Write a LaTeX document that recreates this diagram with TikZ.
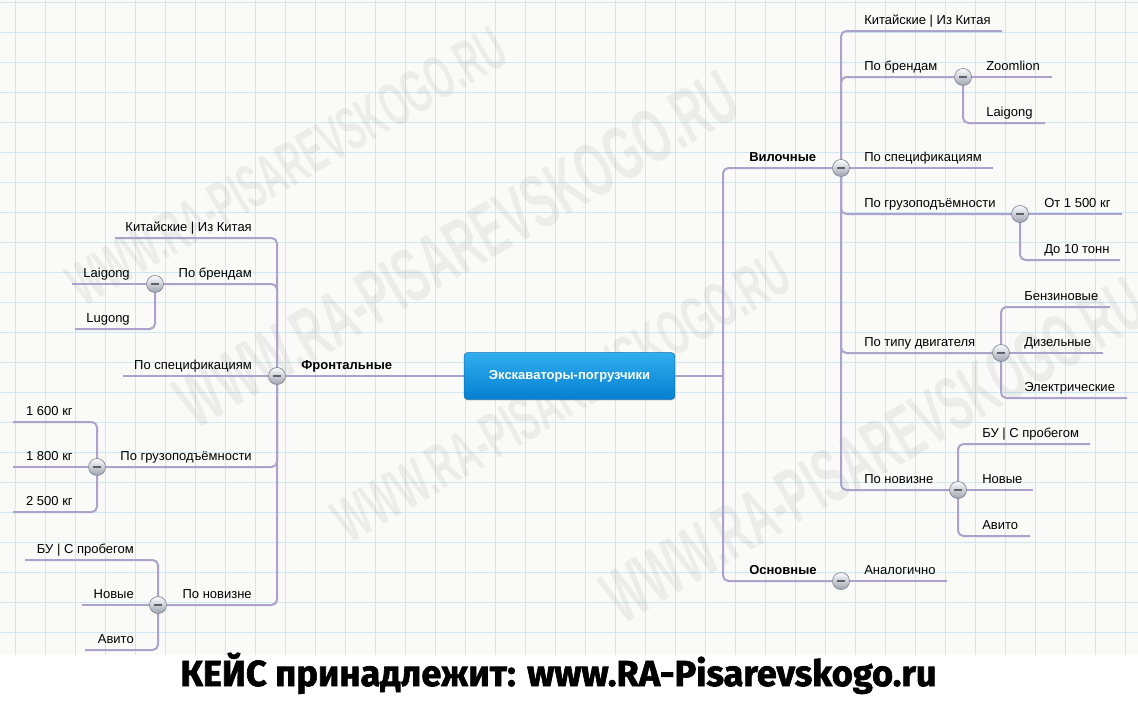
\documentclass[tikz,border=0pt]{standalone}
\usepackage{fontspec}
\usepackage{graphicx}
\setmainfont{Liberation Sans}
\newfontfamily\bannerfont[BoldFeatures={FakeBold=1.8}]{Fira Sans}
\usetikzlibrary{shadows}

\definecolor{paper}{RGB}{250,250,249}
\definecolor{paperblue}{RGB}{206,231,243}
\definecolor{branchline}{RGB}{172,162,204}
\definecolor{topblue}{RGB}{48,174,238}
\definecolor{botblue}{RGB}{6,128,208}
\definecolor{knobtop}{RGB}{252,252,253}
\definecolor{knobbot}{RGB}{158,163,176}
\definecolor{knobedge}{RGB}{128,133,146}
\definecolor{knobdash}{RGB}{95,98,108}
\newcommand{\knobbar}{\textcolor{knobdash}{\rule[-0.6pt]{5.5pt}{1.2pt}}}

\pgfdeclarelayer{paperlayer}
\pgfdeclarelayer{links}
\pgfsetlayers{paperlayer,links,main}

\begin{document}
\begin{tikzpicture}[x=0.75pt, y=-0.75pt,
  every node/.style={font=\fontsize{9.75}{11}\selectfont},
  link/.style={draw=branchline, line width=1.5pt, rounded corners=4pt},
  knob/.style={circle, draw=knobedge, line width=0.5pt, top color=knobtop, bottom color=knobbot, minimum size=12.75pt, inner sep=0pt},
  labr/.style={anchor=base west, inner sep=0pt},
  labl/.style={anchor=base east, inner sep=0pt},
  labb/.style={anchor=base west, inner sep=0pt, font=\bfseries\fontsize{9.75}{11}\selectfont},
  hub/.style={rounded corners=2.5pt, draw=botblue!85!black, line width=0.4pt, top color=topblue, bottom color=botblue, minimum width=158pt, minimum height=35pt, text=white, font=\bfseries\fontsize{9.75}{11}\selectfont, drop shadow={opacity=0.25, shadow xshift=0pt, shadow yshift=-1pt}},
  gridline/.style={draw=paperblue, line width=0.5pt},
  wmark/.style={text=black, text opacity=0.055, rotate=30, inner sep=0pt, font=\bfseries}]
\useasboundingbox (0, 0) rectangle (1138, 714);

\begin{pgfonlayer}{paperlayer}
\fill[paper] (0, 0) rectangle (1138, 655);
\fill[white] (0, 655) rectangle (1138, 714);
\foreach \gx in {15,45,...,1125} \draw[gridline] (\gx, 0) -- (\gx, 655);
\foreach \gy in {2,32,...,632} \draw[gridline] (0, \gy) -- (1138, \gy);
\node[wmark] (wm1) at (287, 166) {\resizebox{370pt}{32pt}{WWW.RA-PISAREVSKOGO.RU}};
\node[wmark] (wm2) at (457, 249) {\resizebox{475pt}{40pt}{WWW.RA-PISAREVSKOGO.RU}};
\node[wmark] (wm3) at (562, 397) {\resizebox{386pt}{33pt}{WWW.RA-PISAREVSKOGO.RU}};
\node[wmark] (wm4) at (874, 450) {\resizebox{458pt}{40pt}{WWW.RA-PISAREVSKOGO.RU}};
\end{pgfonlayer}

% center
\node[hub] (main) at (569.5, 376) {Экскаваторы-погрузчики};
\coordinate (tr) at (723, 376);

% left: frontal
\node[knob] (fr) at (277, 376) {\knobbar};
\node[labb] (frl) at (301, 369) {Фронтальные};
\coordinate (fk-e) at (115, 238);
\node[labl] (fk) at (252, 231) {Китайские | Из Китая};
\node[knob] (fb) at (155, 284) {\knobbar};
\node[labl] (fbl) at (252, 277) {По брендам};
\coordinate (fb1-e) at (72, 284);
\node[labl] (fb1) at (130, 277) {Laigong};
\coordinate (fb2-e) at (75, 329);
\node[labl] (fb2) at (130, 322) {Lugong};
\coordinate (fs-e) at (123, 376);
\node[labl] (fs) at (252, 369) {По спецификациям};
\node[knob] (fg) at (97, 467) {\knobbar};
\node[labl] (fgl) at (252, 460) {По грузоподъёмности};
\coordinate (fg1-e) at (13, 422);
\node[labl] (fg1) at (73, 415) {1 600 кг};
\coordinate (fg2-e) at (13, 467);
\node[labl] (fg2) at (73, 460) {1 800 кг};
\coordinate (fg3-e) at (13, 512);
\node[labl] (fg3) at (73, 505) {2 500 кг};
\node[knob] (fn) at (158, 605) {\knobbar};
\node[labl] (fnl) at (252, 598) {По новизне};
\coordinate (fn1-e) at (25, 560);
\node[labl] (fn1) at (134, 553) {БУ | С пробегом};
\coordinate (fn2-e) at (82, 605);
\node[labl] (fn2) at (134, 598) {Новые};
\coordinate (fn3-e) at (85, 650);
\node[labl] (fn3) at (134, 643) {Авито};

% right: forklift
\node[knob] (vil) at (841, 168) {\knobbar};
\node[labb] (vill) at (749, 161) {Вилочные};
\coordinate (vk-e) at (1002, 31);
\node[labr] (vk) at (864, 24) {Китайские | Из Китая};
\node[knob] (vb) at (963, 77) {\knobbar};
\node[labr] (vbl) at (864, 70) {По брендам};
\coordinate (vb1-e) at (1052, 77);
\node[labr] (vb1) at (986, 70) {Zoomlion};
\coordinate (vb2-e) at (1045, 123);
\node[labr] (vb2) at (986, 116) {Laigong};
\coordinate (vs-e) at (993, 168);
\node[labr] (vs) at (864, 161) {По спецификациям};
\node[knob] (vg) at (1020, 214) {\knobbar};
\node[labr] (vgl) at (864, 207) {По грузоподъёмности};
\coordinate (vg1-e) at (1122, 214);
\node[labr] (vg1) at (1044, 207) {От 1 500 кг};
\coordinate (vg2-e) at (1120, 260);
\node[labr] (vg2) at (1044, 253) {До 10 тонн};
\node[knob] (vt) at (1001, 353) {\knobbar};
\node[labr] (vtl) at (864, 346) {По типу двигателя};
\coordinate (vt1-e) at (1110, 307);
\node[labr] (vt1) at (1024, 300) {Бензиновые};
\coordinate (vt2-e) at (1103, 353);
\node[labr] (vt2) at (1024, 346) {Дизельные};
\coordinate (vt3-e) at (1127, 398);
\node[labr] (vt3) at (1024, 391) {Электрические};
\node[knob] (vn) at (958, 490) {\knobbar};
\node[labr] (vnl) at (864, 483) {По новизне};
\coordinate (vn1-e) at (1090, 444);
\node[labr] (vn1) at (982, 437) {БУ | С пробегом};
\coordinate (vn2-e) at (1033, 490);
\node[labr] (vn2) at (982, 483) {Новые};
\coordinate (vn3-e) at (1030, 536);
\node[labr] (vn3) at (982, 529) {Авито};

% right: basic
\node[knob] (osn) at (841, 581) {\knobbar};
\node[labb] (osnl) at (749, 574) {Основные};
\coordinate (on-e) at (947, 581);
\node[labr] (on) at (864, 574) {Аналогично};

\node[anchor=base] (banner) at (558.5, 686) {\resizebox{567pt}{!}{\bannerfont\bfseries КЕЙС принадлежит: www.RA-Pisarevskogo.ru}};

\begin{pgfonlayer}{links}
\draw[link] (main.west) -- (fr.center);
\draw[link] (fr.center) |- (fk-e);
\draw[link] (fr.center) |- (fb.center);
\draw[link] (fr.center) -- (fs-e);
\draw[link] (fr.center) |- (fg.center);
\draw[link] (fr.center) |- (fn.center);
\draw[link] (fb.center) -- (fb1-e);
\draw[link] (fb.center) |- (fb2-e);
\draw[link] (fg.center) |- (fg1-e);
\draw[link] (fg.center) -- (fg2-e);
\draw[link] (fg.center) |- (fg3-e);
\draw[link] (fn.center) |- (fn1-e);
\draw[link] (fn.center) -- (fn2-e);
\draw[link] (fn.center) |- (fn3-e);
\draw[link] (main.east) -- (tr);
\draw[link] (tr) |- (vil.center);
\draw[link] (tr) |- (osn.center);
\draw[link] (vil.center) |- (vk-e);
\draw[link] (vil.center) |- (vb.center);
\draw[link] (vil.center) -- (vs-e);
\draw[link] (vil.center) |- (vg.center);
\draw[link] (vil.center) |- (vt.center);
\draw[link] (vil.center) |- (vn.center);
\draw[link] (vb.center) -- (vb1-e);
\draw[link] (vb.center) |- (vb2-e);
\draw[link] (vg.center) -- (vg1-e);
\draw[link] (vg.center) |- (vg2-e);
\draw[link] (vt.center) |- (vt1-e);
\draw[link] (vt.center) -- (vt2-e);
\draw[link] (vt.center) |- (vt3-e);
\draw[link] (vn.center) |- (vn1-e);
\draw[link] (vn.center) -- (vn2-e);
\draw[link] (vn.center) |- (vn3-e);
\draw[link] (osn.center) -- (on-e);
\end{pgfonlayer}
\end{tikzpicture}
\end{document}
